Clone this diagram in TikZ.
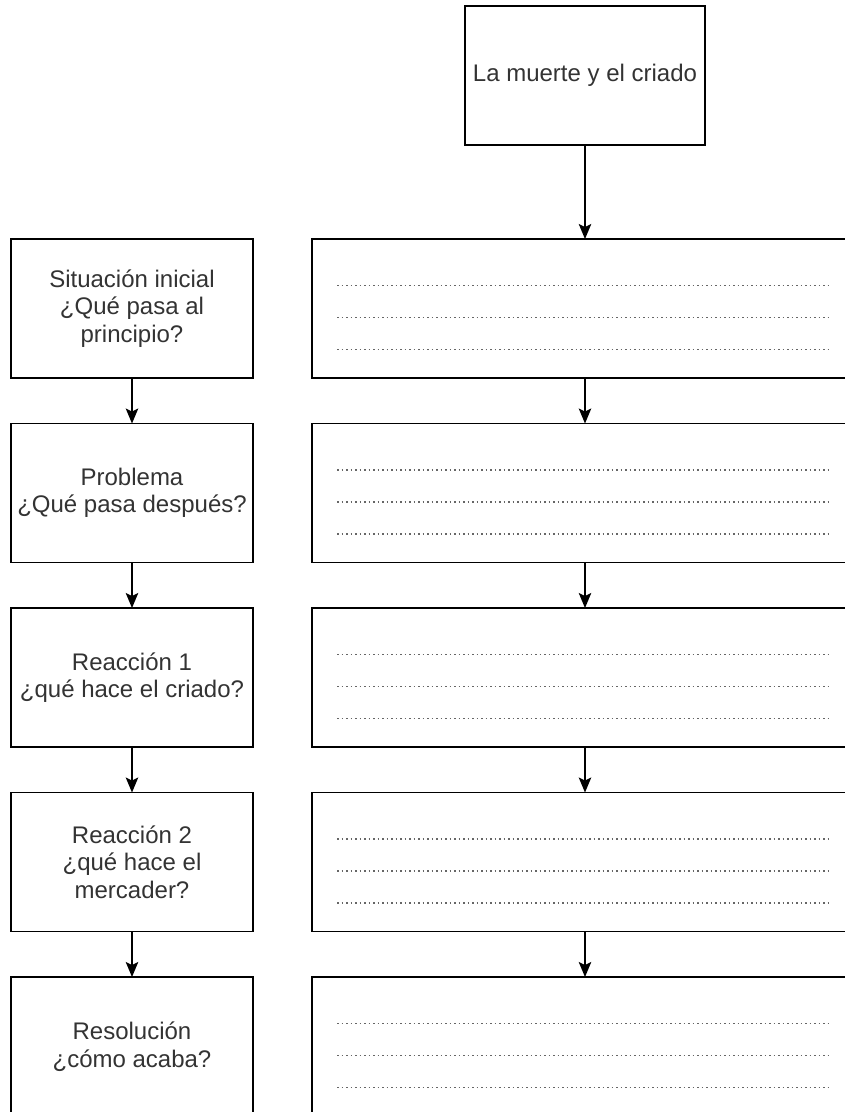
\documentclass[tikz,border=0pt]{standalone}
\usepackage{fontspec}
\setmainfont{Liberation Sans}
\usetikzlibrary{positioning, arrows.meta}

\begin{document}
\begin{tikzpicture}[x=1pt, y=1pt, node distance={45.5pt}, line width=1.6pt,
	main/.style = {draw, rectangle, minimum width=242pt, minimum height=139pt, inner sep=0pt, outer sep=0pt, align=center, text=black!80, font=\fontsize{24}{27.5}\selectfont},
	wide/.style = {main, minimum width=546pt},
	arr/.style = {-{Stealth[length=15pt, width=12.5pt, inset=3pt]}, line width=1.3pt},
	dots/.style = {black!60, line width=1.5pt, dash pattern=on 1.5pt off 3pt}]
			\path[use as bounding box, clip] (0,0) rectangle (845,-1112);
			
			\node[main] (1) at (132,-308.5) {Situación inicial\\¿Qué pasa al\\principio?};
			\node[main] (2) [below=of 1] {Problema\\¿Qué pasa después?};
			\node[main] (3) [below=of 2] {Reacción 1\\¿qué hace el criado?};
			\node[main] (4) [below=of 3] {Reacción 2\\¿qué hace el\\mercader?};
			\node[main] (5) [below=of 4] {Resolución\\¿cómo acaba?};
			\node[wide] (6) [right=59pt of 1] {};
			\node[wide] (7) [right=59pt of 2] {};
			\node[wide] (8) [right=59pt of 3] {};
			\node[wide] (9) [right=59pt of 4] {};
			\node[wide] (10) [right=59pt of 5] {};
			\node[main, minimum width=240pt] (0) [above=94pt of 6] {La muerte y el criado};
			
			% lines to write on
			\foreach \n in {6,...,10}
				\foreach \dy in {46.5,78.5,110.5}
					\draw[dots] ([xshift=25pt, yshift=-\dy pt]\n.north west) -- ++(493,0);
			
			\draw[arr] (0) -- (6);
			\draw[arr] (1) -- (2);
			\draw[arr] (2) -- (3);
			\draw[arr] (3) -- (4);
			\draw[arr] (4) -- (5);
			\draw[arr] (6) -- (7);
			\draw[arr] (7) -- (8);
			\draw[arr] (8) -- (9);
			\draw[arr] (9) -- (10);
		\end{tikzpicture}
\end{document}
